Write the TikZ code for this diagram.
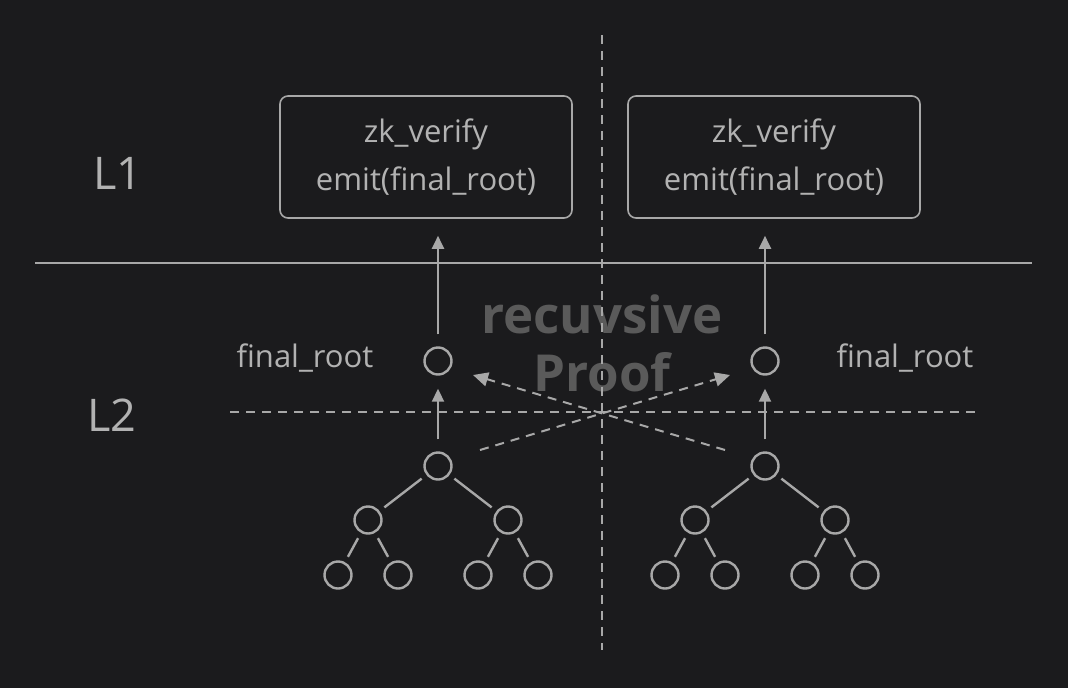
\documentclass[tikz,border=0pt]{standalone}
\usepackage{fontspec}
\setmainfont{Open Sans}
\usetikzlibrary{arrows.meta}
\definecolor{bgdark}{HTML}{1B1B1D}
\definecolor{linegray}{HTML}{A8A8A8}
\definecolor{textgray}{HTML}{B2B2B2}
\definecolor{markgray}{HTML}{5A5A5A}

\begin{document}
\begin{tikzpicture}[x=1pt,y=-1pt,
    knot/.style={circle,draw=linegray,line width=2.4pt,minimum size=27pt,inner sep=0pt},
    verifybox/.style={draw=linegray,line width=1.6pt,rounded corners=8pt,minimum width=292pt,minimum height=122pt,text=textgray,align=center,font=\fontsize{31}{48}\selectfont},
    branch/.style={draw=linegray,line width=2.4pt,shorten <=6pt,shorten >=6pt},
    uparrow/.style={draw=linegray,line width=2pt,-{Triangle[length=13pt,width=12pt]}},
    crossarrow/.style={draw=linegray,line width=2pt,dash pattern=on 9pt off 7pt,-{Triangle[length=15pt,width=14pt]}},
    divider/.style={draw=linegray,line width=1.4pt,dash pattern=on 9pt off 7pt},
    layername/.style={text=textgray,font=\fontsize{45}{50}\selectfont},
    rootname/.style={text=textgray,font=\fontsize{31}{36}\selectfont}]
            \fill[bgdark] (0,0) rectangle (1068,688);
            \useasboundingbox (0,0) rectangle (1068,688);
            % watermark text, behind the lines
            \node[text=markgray,font=\fontsize{51}{58}\selectfont\bfseries,align=center] (mark) at (602,343) {recuvsive\\Proof};
            % layers
            \draw[linegray,line width=1.4pt] (35,263) -- (1032,263);
            \draw[divider] (230,412) -- (978,412);
            \draw[divider] (602,35) -- (602,650);
            \node[layername] (l1) at (118,173) {L1};
            \node[layername] (l2) at (112,415) {L2};
            % contracts on L1
            \node[verifybox] (boxL) at (426,157) {zk\_verify\\emit(final\_root)};
            \node[verifybox] (boxR) at (774,157) {zk\_verify\\emit(final\_root)};
            % left tree
            \node[knot] (finL) at (438,361) {};
            \node[knot] (rootL) at (438,466) {};
            \node[knot] (aL) at (368,520) {};
            \node[knot] (bL) at (508,520) {};
            \node[knot] (a1L) at (338,575) {};
            \node[knot] (a2L) at (398,575) {};
            \node[knot] (b1L) at (478,575) {};
            \node[knot] (b2L) at (538,575) {};
            \draw[branch] (rootL) -- (aL);
            \draw[branch] (rootL) -- (bL);
            \draw[branch] (aL) -- (a1L);
            \draw[branch] (aL) -- (a2L);
            \draw[branch] (bL) -- (b1L);
            \draw[branch] (bL) -- (b2L);
            \draw[uparrow,shorten <=12pt,shorten >=13pt] (rootL.north) -- (finL.south);
            \draw[uparrow,shorten <=12pt,shorten >=17pt] (finL.north) -- (finL.north |- boxL.south);
            \node[rootname] (labL) at (305,358) {final\_root};
            % right tree
            \node[knot] (finR) at (765,361) {};
            \node[knot] (rootR) at (765,466) {};
            \node[knot] (aR) at (695,520) {};
            \node[knot] (bR) at (835,520) {};
            \node[knot] (a1R) at (665,575) {};
            \node[knot] (a2R) at (725,575) {};
            \node[knot] (b1R) at (805,575) {};
            \node[knot] (b2R) at (865,575) {};
            \draw[branch] (rootR) -- (aR);
            \draw[branch] (rootR) -- (bR);
            \draw[branch] (aR) -- (a1R);
            \draw[branch] (aR) -- (a2R);
            \draw[branch] (bR) -- (b1R);
            \draw[branch] (bR) -- (b2R);
            \draw[uparrow,shorten <=12pt,shorten >=13pt] (rootR.north) -- (finR.south);
            \draw[uparrow,shorten <=12pt,shorten >=17pt] (finR.north) -- (finR.north |- boxR.south);
            \node[rootname] (labR) at (905,358) {final\_root};
            % recursive proof crossing
            \coordinate (fromL) at (480,450);
            \coordinate (toR) at (730,375);
            \coordinate (fromR) at (725,450);
            \coordinate (toL) at (473,375);
            \draw[crossarrow] (fromL) -- (toR);
            \draw[crossarrow] (fromR) -- (toL);
        \end{tikzpicture}
\end{document}
